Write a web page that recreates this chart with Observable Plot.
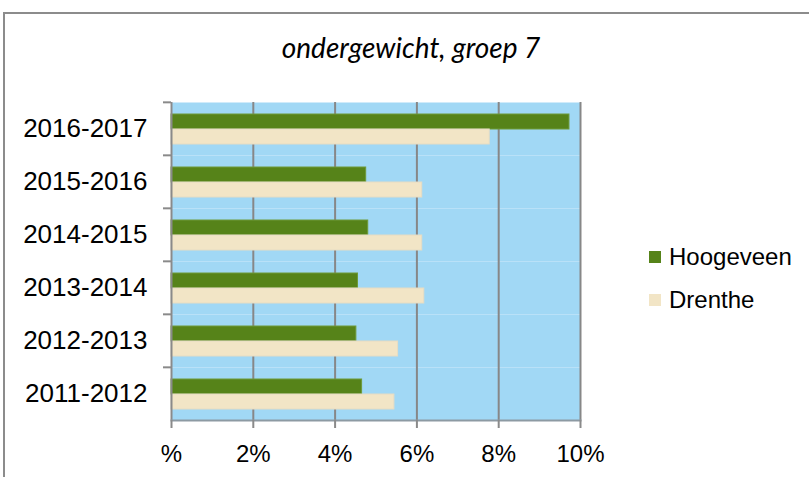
<!DOCTYPE html>
<html>
<head>
<meta charset="utf-8">
<script src="https://cdn.jsdelivr.net/npm/d3@7"></script>
<script src="https://cdn.jsdelivr.net/npm/@observablehq/plot@0.6"></script>
<style>
  html, body { margin: 0; padding: 0; background: #fff; }
  #wrap { position: relative; width: 809px; height: 477px; overflow: hidden; font-family: "Liberation Sans", Arial, sans-serif; }
  #border { position: absolute; left: 3px; top: 12px; width: 900px; height: 600px; border: 2px solid #8c8c8c; box-sizing: border-box; }
  #title { position: absolute; left: 0; width: 822px; top: 30px; text-align: center; font-family: Lato, "Open Sans", sans-serif; font-style: italic; font-size: 28px; color: #000; }
  #chart { position: absolute; left: 0; top: 0; }
  .leg { position: absolute; left: 649px; font-size: 24px; color: #000; display: flex; align-items: center; }
  .leg span.sw { display: inline-block; width: 12px; height: 12px; margin-right: 8px; }
</style>
</head>
<body>
<div id="wrap">
  <div id="border"></div>
  <div id="title">ondergewicht, groep 7</div>
  <div id="chart"></div>
  <div id="legend"></div>
</div>
<script>
const years = ["2016-2017", "2015-2016", "2014-2015", "2013-2014", "2012-2013", "2011-2012"];
const series = ["Hoogeveen", "Drenthe"];
const hoogeveen = [9.73, 4.76, 4.81, 4.56, 4.52, 4.66];
const drenthe = [7.78, 6.13, 6.13, 6.18, 5.54, 5.45];
const xTicks = [0, 2, 4, 6, 8, 10];
const xTickLabels = ["%", "2%", "4%", "6%", "8%", "10%"];
const colors = ["#568319", "#F2E5C6"];
const strokes = ["#6E9A3A", "#E6DCC4"];

const data = [];
years.forEach((y, i) => {
  data.push({year: y, series: series[0], value: hoogeveen[i]});
  data.push({year: y, series: series[1], value: drenthe[i]});
});

const W = 809, H = 477;
const mTop = 101, mBottom = 56, mLeft = 171, mRight = 229;
const bandH = (H - mTop - mBottom) / years.length;

const chart = Plot.plot({
  width: W,
  height: H,
  marginTop: mTop,
  marginBottom: mBottom,
  marginLeft: mLeft,
  marginRight: mRight,
  style: {fontFamily: "'Liberation Sans', Arial, sans-serif", fontSize: "24px", color: "#000", background: "transparent", overflow: "visible"},
  x: {domain: [0, 10], axis: null},
  y: {domain: series, paddingInner: 0, paddingOuter: 0.667, axis: null},
  fy: {domain: years, padding: 0, axis: null, label: null},
  color: {domain: series, range: colors},
  marks: [
    Plot.frame({fill: "#A1D8F5", stroke: null}),
    Plot.gridX({ticks: xTicks.slice(1), stroke: "#878787", strokeOpacity: 1, strokeWidth: 2}),
    Plot.barX(data, {x: "value", y: "series", fy: "year", fill: "series",
      stroke: d => strokes[series.indexOf(d.series)], strokeWidth: 1}),
    Plot.ruleX([0], {stroke: "#8a8a8a", strokeWidth: 2}),
    Plot.axisFy({anchor: "left", tickSize: 8, tickFormat: () => "", stroke: "#8a8a8a", strokeWidth: 2, dy: -bandH / 2}),
    Plot.axisFy({anchor: "left", tickSize: 0, tickPadding: 24, fontSize: 26, label: null}),
    Plot.frame({anchor: "bottom", facetAnchor: "bottom", stroke: "#8d9aa3", strokeWidth: 2}),
    Plot.axisX({ticks: xTicks, tickFormat: d => xTickLabels[xTicks.indexOf(d)], tickSize: 8, tickPadding: 16,
      stroke: "#8a8a8a", strokeWidth: 2, fontSize: 24, label: null})
  ]
});
document.getElementById("chart").appendChild(chart);

const legend = document.getElementById("legend");
const legTops = [257, 300];
series.forEach((s, i) => {
  const d = document.createElement("div");
  d.className = "leg";
  d.style.top = (legTops[i] - 14) + "px";
  d.style.height = "28px";
  d.innerHTML = `<span class="sw" style="background:${colors[i]}"></span><span>${s}</span>`;
  legend.appendChild(d);
});
</script>
</body>
</html>
